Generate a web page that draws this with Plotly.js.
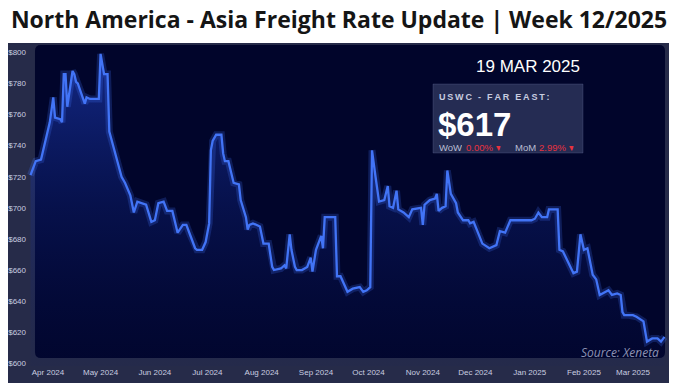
<!DOCTYPE html>
<html>
<head>
<meta charset="utf-8">
<script src="https://cdn.plot.ly/plotly-3.0.1.min.js"></script>
<style>html,body{margin:0;padding:0;background:#fff;}#chart{width:678px;height:389px;}</style>
</head>
<body>
<div id="chart"></div>
<script>
// ---- data ----
const dates = [
 '2024-03-22','2024-03-25','2024-03-28','2024-04-02','2024-04-04','2024-04-05','2024-04-08','2024-04-09',
 '2024-04-10','2024-04-11','2024-04-12','2024-04-13','2024-04-15','2024-04-16','2024-04-17','2024-04-18',
 '2024-04-21','2024-04-22','2024-04-23','2024-04-25','2024-04-30','2024-05-01','2024-05-03','2024-05-05',
 '2024-05-06','2024-05-10','2024-05-13','2024-05-15','2024-05-18','2024-05-20','2024-05-22','2024-05-27',
 '2024-05-30','2024-06-01','2024-06-03','2024-06-06','2024-06-08','2024-06-11','2024-06-14','2024-06-17',
 '2024-06-19','2024-06-21','2024-06-24','2024-06-25','2024-06-28','2024-06-30','2024-07-02','2024-07-03',
 '2024-07-04','2024-07-06','2024-07-09','2024-07-10','2024-07-11','2024-07-13','2024-07-16','2024-07-19',
 '2024-07-20','2024-07-23','2024-07-24','2024-07-25','2024-07-27','2024-07-31','2024-08-02','2024-08-05',
 '2024-08-07','2024-08-08','2024-08-12','2024-08-14','2024-08-15','2024-08-17','2024-08-18','2024-08-20',
 '2024-08-21','2024-08-24','2024-08-27','2024-08-29','2024-08-30','2024-09-01','2024-09-03','2024-09-04',
 '2024-09-05','2024-09-06','2024-09-12','2024-09-13','2024-09-15','2024-09-19','2024-09-22','2024-09-26',
 '2024-09-28','2024-09-30','2024-10-02','2024-10-03','2024-10-05','2024-10-07','2024-10-10','2024-10-12',
 '2024-10-13','2024-10-15','2024-10-17','2024-10-18','2024-10-21','2024-10-24','2024-10-26','2024-10-31',
 '2024-11-01','2024-11-02','2024-11-05','2024-11-08','2024-11-09','2024-11-10','2024-11-12','2024-11-14',
 '2024-11-15','2024-11-17','2024-11-20','2024-11-21','2024-11-24','2024-11-27','2024-11-28','2024-11-30',
 '2024-12-05','2024-12-09','2024-12-13','2024-12-15','2024-12-18','2024-12-21','2025-01-02','2025-01-04',
 '2025-01-06','2025-01-08','2025-01-11','2025-01-12','2025-01-17','2025-01-18','2025-01-20','2025-01-26',
 '2025-01-28','2025-01-30','2025-02-01','2025-02-03','2025-02-06','2025-02-08','2025-02-10','2025-02-13',
 '2025-02-15','2025-02-17','2025-02-20','2025-02-22','2025-02-23','2025-02-24','2025-02-26','2025-03-01',
 '2025-03-03','2025-03-07','2025-03-09','2025-03-12','2025-03-15','2025-03-17','2025-03-19'
];
const rates = [
 721,730,731,755,771,758,757,755,
 786,786,765,772,788,786,781,780,
 771,767,771,770,770,799,786,786,
 749,732,720,716,708,697,704,702,
 691,692,703,704,698,698,684,689,
 689,683,674,673,673,678,690,737,
 743,747,747,735,730,730,716,715,
 705,694,686,689,690,688,677,677,
 662,660,661,663,661,683,673,662,
 660,660,662,668,659,673,680,682,
 674,694,694,656,656,646,648,649,
 646,647,649,737,720,704,705,714,
 701,700,711,699,697,694,699,700,
 689,702,705,706,709,698,700,701,
 724,709,703,697,692,692,690,691,
 677,674,676,685,684,692,692,693,
 697,694,694,699,699,673,672,658,
 659,683,673,674,657,654,644,646,
 647,644,645,644,633,631,631,631,
 630,627,614,616,616,614,617
];
const yTicks = [600,620,640,660,680,700,720,740,760,780,800];
const titleText = 'North America - Asia Freight Rate Update | Week 12/2025';
const dateLabel = '19 MAR 2025';
const laneLabel = 'USWC - FAR EAST:';
const latestRate = '$617';
const wowLabel = 'WoW', wowValue = '0.00%';
const momLabel = 'MoM', momValue = '2.99%';
const sourceText = 'Source: Xeneta';

// ---- layout helpers (pixel -> paper) ----
const L = 27, R = 668, T = 45, B = 366;
const W = R - L, H = B - T;
const px = x => (x - L) / W;
const py = y => (B - y) / H;
function rrect(x0, y0, x1, y1, r) {
  const P = (x, y) => px(x).toFixed(5) + ',' + py(y).toFixed(5);
  return 'M' + P(x0 + r, y0) + ' L' + P(x1 - r, y0) + ' Q' + P(x1, y0) + ' ' + P(x1, y0 + r) +
    ' L' + P(x1, y1 - r) + ' Q' + P(x1, y1) + ' ' + P(x1 - r, y1) +
    ' L' + P(x0 + r, y1) + ' Q' + P(x0, y1) + ' ' + P(x0, y1 - r) +
    ' L' + P(x0, y0 + r) + ' Q' + P(x0, y0) + ' ' + P(x0 + r, y0) + ' Z';
}
const spaced = s => s.split('').join('\u2009');
const sans = 'Liberation Sans, Arial, sans-serif';
function note(x, y, text, size, color, anchor, h) {
  const a = {xref: 'paper', yref: 'paper', x: px(x), y: py(y), xanchor: anchor || 'left', yanchor: 'middle',
          text: text, showarrow: false, font: {family: sans, size: size, color: color}};
  if (h) { a.height = h; a.valign = 'middle'; }
  return a;
}

const glow = {
  x: dates, y: rates, type: 'scatter', mode: 'lines',
  line: {color: 'rgba(70,120,255,0.22)', width: 7, shape: 'linear'},
  fill: 'tozeroy',
  fillgradient: {type: 'vertical', start: 600, stop: 800,
    colorscale: [[0, 'rgba(10,25,110,0.05)'], [0.5, 'rgba(20,45,150,0.3)'], [1, 'rgba(35,70,210,0.55)']]},
  hoverinfo: 'skip', showlegend: false
};
const line = {
  x: dates, y: rates, type: 'scatter', mode: 'lines',
  line: {color: '#4274f6', width: 2.3},
  showlegend: false
};

const red = '#e8323f';
const layout = {
  width: 678, height: 389,
  margin: {l: L, r: 678 - R, t: T, b: 389 - B, pad: 0},
  paper_bgcolor: '#ffffff',
  plot_bgcolor: 'rgba(0,0,0,0)',
  showlegend: false,
  title: {
    text: '<b>' + titleText + '</b>',
    x: 0.5, xref: 'container', xanchor: 'center',
    y: 1 - 20 / 389, yref: 'container', yanchor: 'middle',
    font: {family: 'Open Sans, sans-serif', size: 23, color: '#151515'}
  },
  xaxis: {
    type: 'date', range: ['2024-03-20', '2025-03-21'],
    tick0: '2024-04-01', dtick: 'M1', tickformat: '%b %Y',
    showgrid: false, zeroline: false, showline: false, ticks: '',
    tickfont: {family: sans, size: 8, color: '#c9cde0'},
    fixedrange: true
  },
  yaxis: {
    range: [598.3, 804.7], tickvals: yTicks, ticktext: yTicks.map(v => '$' + v),
    showgrid: false, zeroline: false, showline: false, ticks: '',
    tickfont: {family: sans, size: 8, color: '#c9cde0'},
    fixedrange: true
  },
  shapes: [
    {type: 'rect', xref: 'paper', yref: 'paper', x0: px(8), x1: px(669), y0: py(383), y1: py(43),
     fillcolor: '#262b49', line: {width: 0}, layer: 'below'},
    {type: 'path', xref: 'paper', yref: 'paper', path: rrect(35, 45, 665, 358, 6),
     fillcolor: '#01052b', line: {width: 0}, layer: 'below'},
    {type: 'rect', xref: 'paper', yref: 'paper', x0: px(433), x1: px(583), y0: py(153), y1: py(84),
     fillcolor: '#252c53', line: {color: 'rgba(120,130,180,0.25)', width: 1}, layer: 'above'}
  ],
  annotations: [
    note(528, 66, dateLabel, 17, '#ffffff', 'center'),
    note(437, 96, '<b>' + spaced(laneLabel) + '</b>', 9, '#c8cce0', 'left', 11),
    note(436, 124, '<b>' + latestRate + '</b>', 33, '#ffffff', 'left', 32),
    note(437, 147, wowLabel, 9.5, '#b9bdd2', 'left', 10),
    note(464, 147, wowValue + ' \u25BE', 9.5, red, 'left', 10),
    note(513, 147, momLabel, 9.5, '#b9bdd2', 'left', 10),
    note(537, 147, momValue + ' \u25BE', 9.5, red, 'left', 10),
    {xref: 'paper', yref: 'paper', x: px(661), y: py(352), xanchor: 'right', yanchor: 'middle',
     text: '<i>' + sourceText + '</i>', showarrow: false,
     font: {family: 'Open Sans, sans-serif', size: 12, color: '#8d93b3'}}
  ]
};

Plotly.newPlot('chart', [glow, line], layout, {displayModeBar: false, staticPlot: true});
</script>
</body>
</html>
